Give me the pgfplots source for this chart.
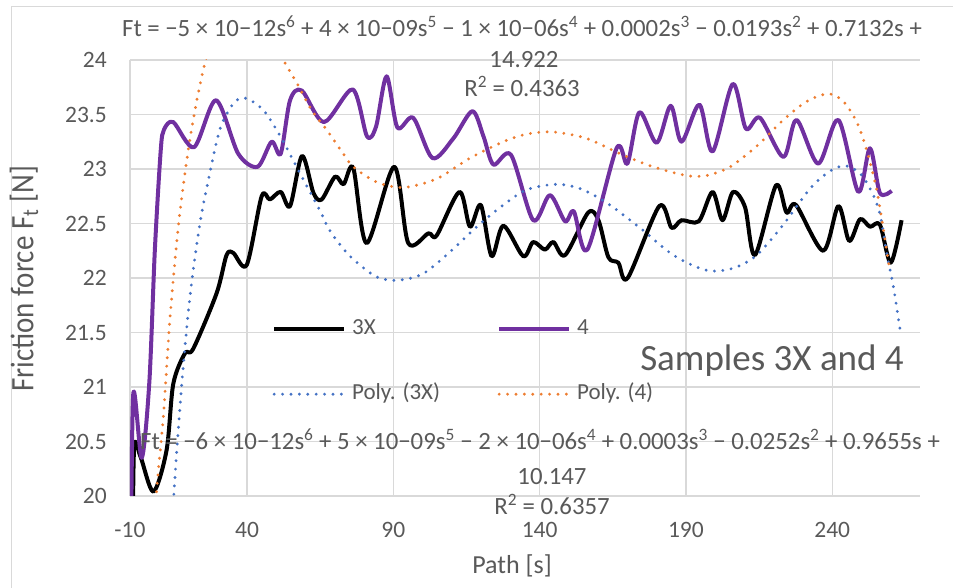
\documentclass[border=0pt]{standalone}
\usepackage{fontspec}
\setmainfont{Carlito}
\usepackage{pgfplots}
\pgfplotsset{compat=1.18}
\definecolor{txt}{HTML}{595959}
\definecolor{grd}{HTML}{D9D9D9}
\definecolor{sfour}{HTML}{7030A0}
\definecolor{pthree}{HTML}{4472C4}
\definecolor{pfour}{HTML}{ED7D31}
\newcommand\fs[1]{\fontsize{#1}{#1}\selectfont}
\pgfplotsset{
  ser/.style={line width=4pt, line join=round, smooth, tension=0.5},
  trend/.style={line width=3.2pt, line cap=round, dash pattern=on 0pt off 8.4pt, smooth, tension=0.5},
}
\begin{document}
\begin{tikzpicture}[x=1pt,y=1pt]
\draw[grd, line width=1pt] (-118,-120) rectangle (850,489);
\begin{axis}[
  at={(0pt,0pt)}, anchor=south west,
  scale only axis, width=790pt, height=436pt,
  xmin=0, xmax=270, ymin=20, ymax=24,
  xtick={0,40,90,140,190,240},
  xticklabels={-10,40,90,140,190,240},
  ytick={20,20.5,...,24},
  axis line style={draw=none},
  major tick length=0pt,
  grid=major, grid style={draw=grd, line width=1.3pt},
  /pgf/number format/assume math mode=true,
  ticklabel style={font=\fs{23.5}, text=txt, inner sep=0pt},
  xticklabel style={anchor=north, yshift=-26pt},
  yticklabel style={anchor=east, xshift=-23pt},
  legend columns=2,
  legend cell align=left,
  legend image code/.code={\draw[#1] (0pt,0pt) -- (70pt,0pt);},
  legend style={draw=none, fill=none, inner sep=0pt,
    at={(axis description cs:0.1797,0.308)}, anchor=west,
    font=\fs{23}, text=txt, row sep=42pt,
    nodes={inner sep=0pt, text height=17pt, text depth=6pt},
    /tikz/every odd column/.style={column sep=6pt},
    /tikz/every even column/.style={column sep=57pt}},
]
% 3X
\addplot[ser, black] coordinates {
(0.9,19.3) (1.4,20.44) (3.6,20.36) (8.0,20.04) (12.5,20.42) (14.8,21.03)
(18.8,21.31) (21.6,21.35) (29.6,21.86) (33.0,22.21) (35.3,22.23) (39.9,22.12)
(45.0,22.75) (47.8,22.72) (51.5,22.79) (54.7,22.66) (58.8,23.12) (62.7,22.78)
(65.5,22.72) (70.1,22.93) (73.0,22.86) (76.3,23.01) (80.9,22.32) (90.3,23.02)
(95.1,22.32) (102.0,22.41) (104.8,22.39) (112.6,22.79) (116.2,22.47) (119.9,22.67)
(123.6,22.20) (127.6,22.48) (134.4,22.20) (137.8,22.33) (141.8,22.26) (144.7,22.33)
(148.7,22.21) (156.6,22.60) (160.1,22.53) (163.5,22.19) (166.9,22.14) (170.1,22.00)
(180.9,22.66) (185.1,22.46) (188.5,22.53) (194.4,22.52) (199.1,22.79) (202.5,22.53)
(206.1,22.79) (210.2,22.65) (213.6,22.21) (220.8,22.85) (224.4,22.60) (227.6,22.67)
(236.9,22.25) (242.1,22.66) (245.8,22.34) (249.5,22.54) (252.9,22.47) (256.3,22.49)
(260.0,22.14) (263.7,22.53)
};
\addlegendentry{3X}
% 4
\addplot[ser, sfour] coordinates {
(0.2,19.0) (1.1,20.93) (4.0,20.35) (6.6,21.04) (8.5,22.26) (10.5,23.17)
(11.6,23.36) (14.8,23.43) (21.9,23.20)
(29.4,23.63) (37.0,23.14) (43.6,23.02) (48.4,23.25) (51.5,23.14) (54.7,23.63)
(58.7,23.72) (66.3,23.43) (76.1,23.73) (81.0,23.30) (84.1,23.39) (87.7,23.85)
(91.4,23.38) (96.8,23.47) (103.4,23.10) (110.5,23.28) (117.0,23.53) (120.8,23.30)
(124.2,23.04) (130.2,23.13) (137.8,22.53) (143.5,22.76) (148.7,22.52) (151.7,22.61)
(156.3,22.26) (166.3,23.19) (170.0,23.05) (174.1,23.52) (180.0,23.24) (184.8,23.58)
(188.5,23.25) (194.6,23.59) (199.1,23.16) (206.0,23.78) (210.5,23.37) (215.3,23.47)
(223.3,23.11) (227.8,23.45) (235.2,23.05) (242.1,23.45) (248.9,22.79) (252.9,23.19)
(256.3,22.78) (260.3,22.80)
};
\addlegendentry{4}
% Poly. (3X)
\addplot[trend, pthree] coordinates {
(14.0,19.4) (15.0,20.02) (17.7,21.03) (20.5,21.83) (23.9,22.50) (27.1,22.94)
(30.8,23.37) (35.3,23.60) (39.3,23.65) (45.6,23.54) (51.8,23.28) (58.1,22.96)
(64.9,22.62) (68.4,22.43) (75.2,22.20) (84.3,22.01) (91.7,21.98) (100.2,22.04)
(109.4,22.24) (118.5,22.47) (127.6,22.67) (135.6,22.81) (145.8,22.86) (153.8,22.82)
(162.9,22.69) (174.3,22.46) (185.7,22.21) (197.1,22.07) (206.2,22.09) (214.2,22.21)
(223.3,22.49) (232.4,22.82) (239.2,22.98) (244.4,23.03) (249.5,22.96) (253.5,22.79)
(256.3,22.59) (258.6,22.23) (260.9,21.92) (263.4,21.49)
};
\addlegendentry{Poly. (3X)}
% Poly. (4)
\addplot[trend, pfour] coordinates {
(8.5,19.5) (9.1,20.04) (11.4,20.73) (13.7,21.64) (16.5,22.47) (19.4,23.08)
(22.2,23.54) (25.6,23.97) (30,24.35) (37,24.55) (44,24.45) (49,24.2)
(52.4,24.00) (57.0,23.79) (62.1,23.54) (67.2,23.36) (72.9,23.14) (76.3,23.02)
(84.3,22.88) (93.4,22.83) (104.8,22.91) (116.2,23.10) (127.6,23.25) (135.6,23.32)
(144.7,23.34) (156.1,23.28) (167.5,23.14) (178.8,23.02) (190.2,22.94) (197.1,22.94)
(205.1,23.02) (214.2,23.21) (223.3,23.45) (231.3,23.62) (238.7,23.69) (243.8,23.62)
(248.4,23.43) (251.8,23.17) (255.2,22.81) (257.5,22.44) (259.7,22.07)
};
\addlegendentry{Poly. (4)}
\end{axis}
\begin{scope}[every node/.style={text=txt, inner sep=0pt}]
\node[font=\fs{24.8}, anchor=base] at (392,459)
  {Ft = −5 × 10−12s\textsuperscript{6} + 4 × 10−09s\textsuperscript{5} − 1 × 10−06s\textsuperscript{4} + 0.0002s\textsuperscript{3} − 0.0193s\textsuperscript{2} + 0.7132s +};
\node[font=\fs{24.8}, anchor=base] at (394,428) {14.922};
\node[font=\fs{24.8}, anchor=base] at (392,399) {R\textsuperscript{2} = 0.4363};
\node[font=\fs{24.8}, anchor=base] at (410,46)
  {Ft = −6 × 10−12s\textsuperscript{6} + 5 × 10−09s\textsuperscript{5} − 2 × 10−06s\textsuperscript{4} + 0.0003s\textsuperscript{3} − 0.0252s\textsuperscript{2} + 0.9655s +};
\node[font=\fs{24.8}, anchor=base] at (422,11) {10.147};
\node[font=\fs{24.8}, anchor=base] at (422,-19) {R\textsuperscript{2} = 0.6357};
\node[font=\fs{37}, anchor=base] at (642,125) {Samples 3X and 4};
\node[font=\fs{26}, anchor=base] at (382,-78) {Path [s]};
\node[font=\fs{29}, xscale=1.13, rotate=90] at (-106,217) {Friction force F\textsubscript{t} [N]};
\end{scope}
\pgfresetboundingbox
\useasboundingbox (-130,-92) rectangle (823,496);
\end{tikzpicture}
\end{document}
